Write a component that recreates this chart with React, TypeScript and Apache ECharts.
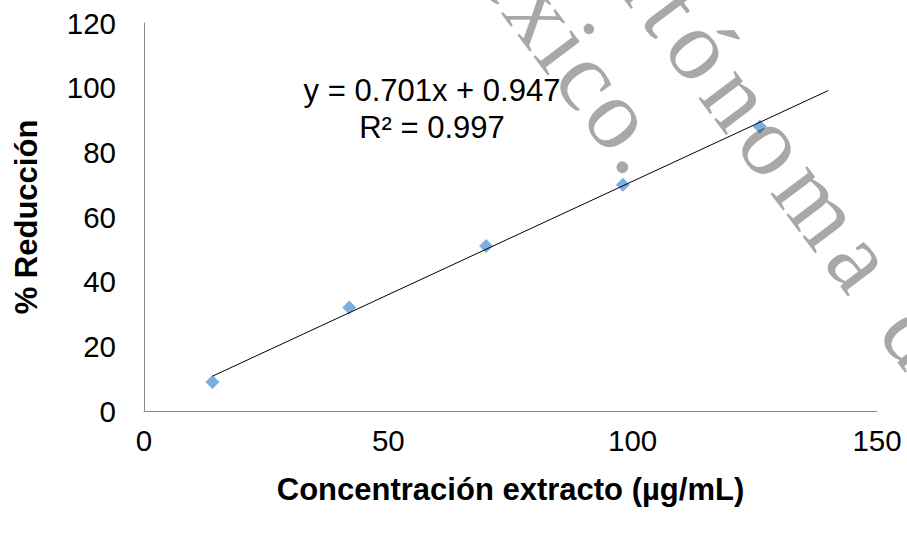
import React, { useEffect, useRef } from "react";
import * as echarts from "echarts";

// Measured points
const concentration = [14, 42, 70, 98, 126];
const reduction = [9, 32, 51, 70, 88];

// Linear fit reported on the chart
const slope = 0.701;
const intercept = 0.947;
const rSquared = 0.997;
const trendFrom = 14;
const trendTo = 140;

// Axis ranges
const xMin = 0;
const xMax = 150;
const xStep = 50;
const yMin = 0;
const yMax = 120;
const yStep = 20;

const xTitle = "Concentración extracto (µg/mL)";
const yTitle = "% Reducción";

// Repository watermark lines
const watermarkLines = ["Universidad Autónoma del", "Estado de México."];

const WIDTH = 907;
const HEIGHT = 537;

const sans = "'Liberation Sans', Arial, sans-serif";
const serif = "'Liberation Serif', 'Times New Roman', serif";
const wmAngle = (53 * Math.PI) / 180; // clockwise slant of the watermark
const wmFill = "rgba(0,0,0,0.34)";
const wmSize = 100;

// One watermark line laid out glyph by glyph (distributed spacing),
// pinned so that the centre of glyph `pin` sits at (px, py).
function watermarkRun(text: string, pin: number, px: number, py: number, spacing: number) {
  const ctx = document.createElement("canvas").getContext("2d")!;
  ctx.font = `${wmSize}px ${serif}`;
  const chars = Array.from(text);
  const adv = chars.map((ch) => ctx.measureText(ch).width);
  const left: number[] = [];
  let acc = 0;
  chars.forEach((_, i) => {
    left.push(acc);
    acc += adv[i] + spacing;
  });
  const offset = left[pin] + adv[pin] / 2;
  const cos = Math.cos(wmAngle);
  const sin = Math.sin(wmAngle);
  const children: any[] = [];
  chars.forEach((ch, i) => {
    if (ch === " ") return;
    const lx = left[i] - offset;
    const cx = px + (lx + adv[i] / 2) * cos;
    const cy = py + (lx + adv[i] / 2) * sin;
    if (cx < -70 || cx > WIDTH + 70 || cy < -70 || cy > HEIGHT + 70) return;
    children.push({
      type: "text",
      x: lx,
      y: 0,
      z: 100,
      silent: true,
      style: {
        text: ch,
        fontFamily: serif,
        fontSize: wmSize,
        fill: wmFill,
        align: "left",
        verticalAlign: "middle",
      },
    });
  });
  return { type: "group", x: px, y: py, rotation: -wmAngle, z: 100, silent: true, children };
}

export default function App() {
  const ref = useRef<HTMLDivElement>(null);

  useEffect(() => {
    document.body.style.margin = "0";
    if (!ref.current) return;
    const chart = echarts.init(ref.current, undefined, { renderer: "svg" });

    const points = concentration.map((x, i) => [x, reduction[i]]);
    const fit = (x: number) => slope * x + intercept;
    const trend = [
      [trendFrom, fit(trendFrom)],
      [trendTo, fit(trendTo)],
    ];
    const equation = `y = ${slope.toFixed(3)}x + ${intercept.toFixed(3)}\nR² = ${rSquared.toFixed(3)}`;

    const topLine = watermarkLines[0];
    const bottomLine = watermarkLines[1];

    chart.setOption({
      animation: false,
      backgroundColor: "#ffffff",
      grid: { left: 144, right: 30, top: 23, bottom: 126, containLabel: false },
      xAxis: {
        type: "value",
        min: xMin,
        max: xMax,
        interval: xStep,
        name: xTitle,
        nameLocation: "middle",
        nameGap: 63,
        nameTextStyle: { fontFamily: sans, fontSize: 31, fontWeight: "bold", color: "#000" },
        axisLine: { show: true, lineStyle: { color: "#898989", width: 1 } },
        axisTick: { show: false },
        splitLine: { show: false },
        axisLabel: { fontFamily: sans, fontSize: 29.5, color: "#000", margin: 14 },
      },
      yAxis: {
        type: "value",
        min: yMin,
        max: yMax,
        interval: yStep,
        name: yTitle,
        nameLocation: "middle",
        nameRotate: 90,
        nameGap: 102,
        nameTextStyle: { fontFamily: sans, fontSize: 31, fontWeight: "bold", color: "#000" },
        axisLine: { show: true, lineStyle: { color: "#898989", width: 1 } },
        axisTick: { show: false },
        splitLine: { show: false },
        axisLabel: { fontFamily: sans, fontSize: 29.5, color: "#000", margin: 28 },
      },
      series: [
        {
          type: "scatter",
          data: points,
          symbol: "diamond",
          symbolSize: 14,
          itemStyle: { color: "#5B9BD5" },
          z: 2,
        },
        {
          type: "line",
          data: trend,
          symbol: "none",
          lineStyle: { color: "#000", width: 1 },
          z: 3,
        },
      ],
      graphic: [
        {
          type: "text",
          x: 432,
          y: 109,
          z: 50,
          style: {
            text: equation,
            fontFamily: sans,
            fontSize: 31,
            lineHeight: 36.5,
            fill: "#000",
            align: "center",
            verticalAlign: "middle",
          },
        },
        watermarkRun(topLine, topLine.indexOf("ó"), 702.6, 48.3, 10),
        watermarkRun(bottomLine, bottomLine.length - 1, 645.5, 149.7, 3),
      ],
    });

    return () => chart.dispose();
  }, []);

  return <div ref={ref} style={{ width: WIDTH, height: HEIGHT }} />;
}
